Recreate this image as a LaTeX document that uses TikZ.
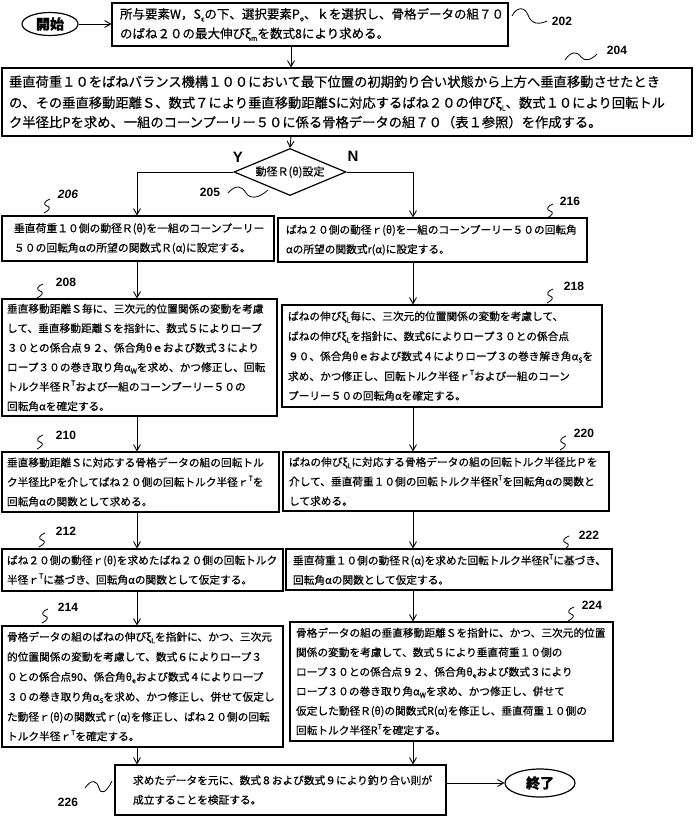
\documentclass[tikz,border=0pt]{standalone}
\usepackage{fontspec}
\setmainfont{Noto Sans CJK JP}[FakeBold=0.5]
\newfontfamily\numfont{Liberation Sans}
\usetikzlibrary{arrows.meta,shapes.geometric}
\newcommand\sbs[1]{\raisebox{-0.4ex}{\fontsize{7}{7}\selectfont #1}}
\newcommand\sps[1]{\raisebox{0.9ex}{\fontsize{7}{7}\selectfont #1}}
\tikzset{
  box/.style={draw,line width=1.2pt,rectangle,align=left,inner ysep=1pt,
    font=\fontsize{10.7}{19.5}\selectfont},
  term/.style={draw,ellipse,line width=1.2pt,inner sep=0pt,
    font=\bfseries\fontsize{14}{14}\selectfont},
  dia/.style={draw,diamond,line width=1.2pt,inner sep=0pt,shape aspect=2.4,
    minimum width=112pt,minimum height=47pt,font=\fontsize{11}{11}\selectfont},
  arr/.style={-{Straight Barb[length=6pt,width=7pt]},line width=0.9pt},
  ln/.style={line width=0.9pt},
  lbl/.style={font=\numfont\bfseries\fontsize{12}{12}\selectfont,inner sep=0pt},
  yn/.style={font=\numfont\bfseries\fontsize{15}{15}\selectfont,inner sep=0pt},
  sq/.style={line width=0.8pt},
  zz/.pic={\draw[sq] (3,-7) .. controls (-3,-5) and (-4,-1) .. (0,0) .. controls (4,1) and (3,4) .. (-3,7);}
}
\newcommand\bx[7][6]{%
  \pgfmathsetmacro\bw{#5-#3}%
  \pgfmathsetmacro\bh{#6-#4}%
  \pgfmathsetmacro\tw{#5-#3-2*#1}%
  \pgfmathsetmacro\cx{(#3+#5)/2}%
  \pgfmathsetmacro\cy{(#4+#6)/2}%
  \node[box,inner xsep=#1pt,minimum width=\bw pt,minimum height=\bh pt,text width=\tw pt] (#2) at (\cx,\cy) {#7};}
\begin{document}
\begin{tikzpicture}[x=1pt,y=-1pt]
\useasboundingbox (0,0) rectangle (698,825);
\coordinate (colL) at (137,0);
\coordinate (colR) at (413,0);
\coordinate (colM) at (291,0);

\node[term,minimum width=56pt,minimum height=23pt] (start) at (50,24) {開始};
\bx[8]{b202}{112}{3}{508}{46}{\fontsize{12.5}{20}\selectfont 所与要素W，S\sbs{ε}の下、選択要素P\sbs{ο}、ｋを選択し、骨格データの組７０\\のばね２０の最大伸びξ\sbs{m}を数式8により求める。}
\bx[7]{b204}{2}{68}{692}{136}{\fontsize{13.3}{21}\selectfont 垂直荷重１０をばねバランス機構１００において最下位置の初期釣り合い状態から上方へ垂直移動させたとき\\の、その垂直移動距離Ｓ、数式７により垂直移動距離Sに対応するばね２０の伸びξ\sbs{L}、数式１０により回転トル\\ク半径比Pを求め、一組のコーンプーリー５０に係る骨格データの組７０（表１参照）を作成する。}
\node[dia] (dec) at (290,172) {動径Ｒ(θ)設定};
\bx[12]{b206}{2}{216}{274}{261}{\fontsize{10.8}{21}\selectfont 垂直荷重１０側の動径Ｒ(θ)を一組のコーンプーリー\\５０の回転角αの所望の関数式Ｒ(α)に設定する。}
\bx[8]{b216}{278}{218}{587}{262}{\fontsize{10.7}{21}\selectfont ばね２０側の動径ｒ(θ)を一組のコーンプーリー５０の回転角\\αの所望の関数式r(α)に設定する。}
\bx[5]{b208}{2}{299}{277}{416}{垂直移動距離Ｓ毎に、三次元的位置関係の変動を考慮\\して、垂直移動距離Ｓを指針に、数式５によりロープ\\３０との係合点９２、係合角θｅおよび数式３により\\ロープ３０の巻き取り角α\sbs{W}を求め、かつ修正し、回転\\トルク半径Ｒ\sps{T}および一組のコーンプーリー５０の\\回転角αを確定する。}
\bx[6]{b218}{282}{305}{602}{407}{\fontsize{10.7}{20}\selectfont ばねの伸びξ\sbs{L}毎に、三次元的位置関係の変動を考慮して、\\ばねの伸びξ\sbs{L}を指針に、数式6によりロープ３０との係合点\\９０、係合角θｅおよび数式４によりロープ３の巻き解き角α\sbs{S}を\\求め、かつ修正し、回転トルク半径ｒ\sps{T}および一組のコーン\\プーリー５０の回転角αを確定する。}
\bx[5]{b210}{2}{452}{279}{512}{垂直移動距離Ｓに対応する骨格データの組の回転トル\\ク半径比Pを介してばね２０側の回転トルク半径ｒ\sps{T}を\\回転角αの関数として求める。}
\bx[6]{b220}{283}{452}{609}{511}{ばねの伸びξ\sbs{L}に対応する骨格データの組の回転トルク半径比Ｐを\\介して、垂直荷重１０側の回転トルク半径R\sps{T}を回転角αの関数と\\して求める。}
\bx[5]{b212}{2}{549}{283}{591}{\fontsize{10.7}{21}\selectfont ばね２０側の動径ｒ(θ)を求めたばね２０側の回転トルク\\半径ｒ\sps{T}に基づき、回転角αの関数として仮定する。}
\bx[7]{b222}{286}{549}{612}{590}{\fontsize{10.7}{21}\selectfont 垂直荷重１０側の動径Ｒ(α)を求めた回転トルク半径R\sps{T}に基づき、\\回転角αの関数として仮定する。}
\bx[5]{b214}{2}{626}{283}{747}{\fontsize{10.7}{20}\selectfont 骨格データの組のばねの伸びξ\sbs{L}を指針に、かつ、三次元\\的位置関係の変動を考慮して、数式６によりロープ３\\０との係合点90、係合角θ\sbs{e}および数式４によりロープ\\３０の巻き取り角α\sbs{S}を求め、かつ修正し、併せて仮定し\\た動径ｒ(θ)の関数式ｒ(α)を修正し、ばね２０側の回転\\トルク半径ｒ\sps{T}を確定する。}
\bx[6]{b224}{290}{622}{613}{741}{骨格データの組の垂直移動距離Ｓを指針に、かつ、三次元的位置\\関係の変動を考慮して、数式５により垂直荷重１０側の\\ロープ３０との係合点９２、係合角θ\sbs{e}および数式３により\\ロープ３０の巻き取り角α\sbs{W}を求め、かつ修正し、併せて\\仮定した動径Ｒ(θ)の関数式R(α)を修正し、垂直荷重１０側の\\回転トルク半径R\sps{T}を確定する。}
\bx[18]{b226}{115}{765}{446}{815}{\fontsize{10.7}{21}\selectfont 求めたデータを元に、数式８および数式９により釣り合い則が\\成立することを検証する。}
\node[term,minimum width=70pt,minimum height=28pt] (end) at (540,783) {終了};

% connectors
\draw[arr] (start.east) -- (start.east -| b202.west);
\draw[arr] (b202.south -| colM) -- (b204.north -| colM);
\draw[arr] (b204.south -| colM) -- (dec.north);
\draw[arr] (dec.west) -| (b206.north -| colL);
\draw[arr] (dec.east) -| (b216.north -| colR);
\draw[arr] (b206.south -| colL) -- (b208.north -| colL);
\draw[arr] (b216.south -| colR) -- (b218.north -| colR);
\draw[arr] (b208.south -| colL) -- (b210.north -| colL);
\draw[arr] (b218.south -| colR) -- (b220.north -| colR);
\draw[arr] (b210.south -| colL) -- (b212.north -| colL);
\draw[arr] (b220.south -| colR) -- (b222.north -| colR);
\draw[arr] (b212.south -| colL) -- (b214.north -| colL);
\draw[arr] (b222.south -| colR) -- (b224.north -| colR);
\draw[arr] (b214.south -| colL) -- (b226.north -| colL);
\draw[arr] (b224.south -| colR) -- (b226.north -| colR);
\draw[arr] (b226.east |- end) -- (end.west);

% Y / N
\node[yn] (ylab) at (238,157) {Y};
\node[yn] (nlab) at (353,156) {N};

% reference labels
\draw[sq] (512,16) .. controls (517,6) and (525,7) .. (528,15) .. controls (531,24) and (539,25) .. (547,21);
\node[lbl] (l202) at (562,21) {202};
\draw[sq] (565,60) .. controls (571,51) and (577,51) .. (581,57) .. controls (585,62) and (591,60) .. (597,54);
\node[lbl] (l204) at (617,50) {204};
\draw[sq] (228,193) .. controls (236,184) and (242,186) .. (246,193) .. controls (250,199) and (258,199) .. (268,190);
\node[lbl] (l205) at (210,192) {205};
\pic at (47,206) {zz};
\node[lbl,font=\numfont\bfseries\itshape\fontsize{12}{12}\selectfont] (l206) at (68,194) {206};
\pic at (40,291) {zz};
\node[lbl] (l208) at (66,282) {208};
\pic at (40,442) {zz};
\node[lbl] (l210) at (66,435) {210};
\pic at (42,540) {zz};
\node[lbl] (l212) at (66,531) {212};
\pic at (45,616) {zz};
\node[lbl] (l214) at (68,607) {214};
\pic at (550,211) {zz};
\node[lbl] (l216) at (570,201) {216};
\pic at (550,296) {zz};
\node[lbl] (l218) at (574,286) {218};
\pic at (563,443) {zz};
\node[lbl] (l220) at (584,433) {220};
\pic at (566,543) {zz};
\node[lbl] (l222) at (589,535) {222};
\pic at (571,614) {zz};
\node[lbl] (l224) at (592,605) {224};
\draw[sq] (85,788) .. controls (92,778) and (97,781) .. (99,788) .. controls (101,795) and (106,793) .. (112,781);
\node[lbl] (l226) at (68,802) {226};
\end{tikzpicture}
\end{document}
